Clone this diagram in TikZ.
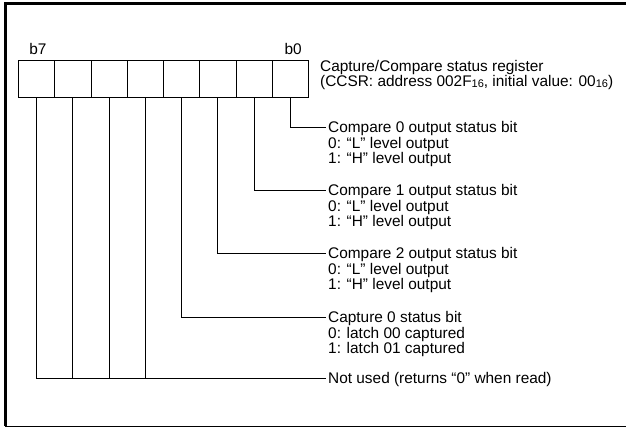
\documentclass[tikz,border=0pt]{standalone}
\usepackage{fontspec}
\setmainfont{Liberation Sans}
\usetikzlibrary{positioning}

\newcommand{\hexbase}{\raisebox{-0.8pt}{\fontsize{11}{11}\selectfont 16}}

\begin{document}
\begin{tikzpicture}[x=1pt,y=-1pt]
  \useasboundingbox (0,0) rectangle (626,428);
  \begin{scope}[node distance=0pt,
    bitcell/.style={rectangle, draw, line width=0.6pt, minimum width=36.25pt, minimum height=37pt, inner sep=0pt, outer sep=0pt},
    bitlbl/.style={inner sep=0pt, anchor=base, font=\fontsize{15.4}{12.7}\selectfont},
    desc/.style={inner sep=0pt, anchor=north west, align=left, font=\fontsize{15.4}{12.7}\selectfont},
    wire/.style={line width=0.6pt}]
  % frame
  \draw[line width=3pt] (626,4) -- (5,4) -- (5,426);
  \draw[line width=1pt] (5,426) -- (626,426);
  % register cells, b7 on the left
  \node[bitcell, anchor=north west] (b7) at (18.3,60) {};
  \foreach \i [evaluate=\i as \j using int(\i+1)] in {6,...,0}
    \node[bitcell, right=of b\j] (b\i) {};
  \node[bitlbl] (lb7) at ([xshift=1.5pt,yshift=5pt]b7.north) {b7};
  \node[bitlbl] (lb0) at ([xshift=3pt,yshift=5pt]b0.north) {b0};
  \node[desc] (title) at (320,60) {Capture/Compare status register\\(CCSR: address 002F\hexbase, initial value: 00\hexbase)};
  % wire ends
  \coordinate (e0) at (326,127);
  \coordinate (e1) at (326,190);
  \coordinate (e2) at (326,253);
  \coordinate (e3) at (326,317);
  \coordinate (e7) at (326,378);
  \foreach \i in {0,...,3}
    \draw[wire] (b\i.south) |- (e\i);
  \draw[wire] (b7.south) |- (e7);
  \foreach \i in {4,5,6}
    \draw[wire] (b\i.south) -- (b\i.south |- e7);
  % descriptions
  \node[desc] (d0) at ([xshift=2pt,yshift=5.5pt]e0) {Compare 0 output status bit\\0: ``L'' level output\\1: ``H'' level output};
  \node[desc] (d1) at ([xshift=2pt,yshift=5.5pt]e1) {Compare 1 output status bit\\0: ``L'' level output\\1: ``H'' level output};
  \node[desc] (d2) at ([xshift=2pt,yshift=5.5pt]e2) {Compare 2 output status bit\\0: ``L'' level output\\1: ``H'' level output};
  \node[desc] (d3) at ([xshift=2pt,yshift=5.5pt]e3) {Capture 0 status bit\\0: latch 00 captured\\1: latch 01 captured};
  \node[desc] (d7) at ([xshift=2pt,yshift=5.5pt]e7) {Not used (returns ``0'' when read)};
  \end{scope}
\end{tikzpicture}
\end{document}
